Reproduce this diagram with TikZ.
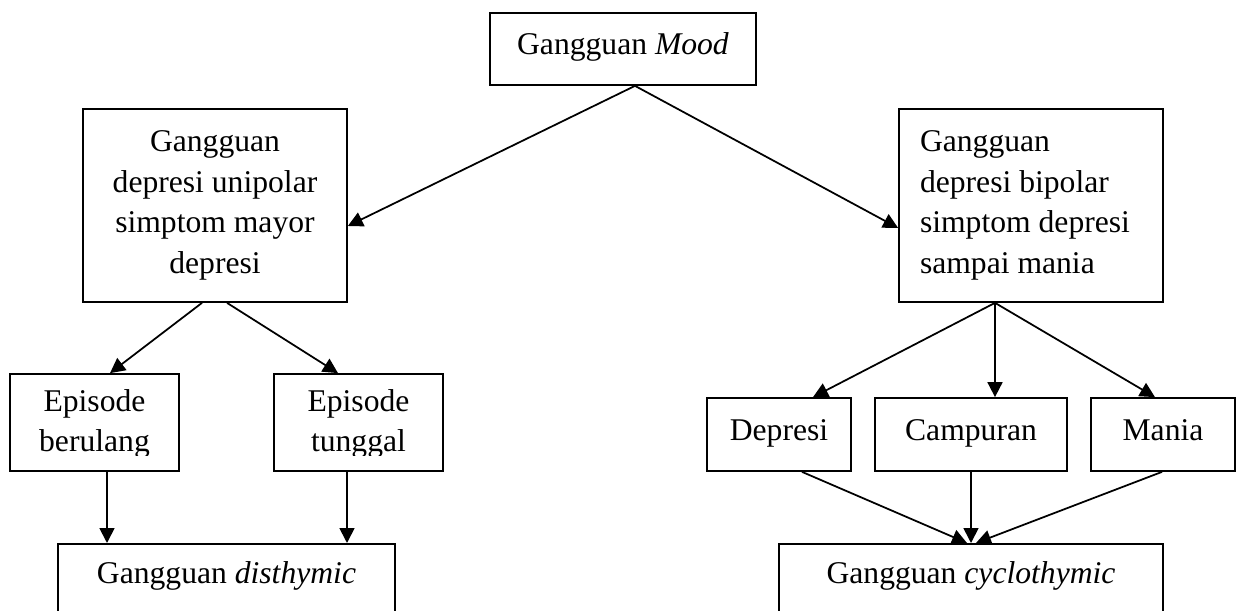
\documentclass[tikz,border=0pt]{standalone}
\usepackage{fontspec}
\setmainfont{Liberation Serif}
\usepackage{trimclip}
\usetikzlibrary{arrows.meta,calc}

\begin{document}
\begin{tikzpicture}[
    x=0.02cm, y=-0.02cm,
    box/.style={draw, line width=1pt, inner sep=0pt, align=center, font=\fontsize{18}{23}\selectfont},
    one/.style={box, text height=11pt, text depth=4.5pt},
    low/.style={box, anchor=north, inner ysep=0.35cm, text depth=2cm},
    arr/.style={-{Triangle[length=3mm,width=3mm]}, line width=1pt}
  ]
  \path[use as bounding box] (0,0) rectangle (1241,611);
  \clip (0,0) rectangle (1241,611);

  \node[one, minimum width=5.32cm, minimum height=1.44cm] (mood) at (623,49) {Gangguan \textit{Mood}};
  \node[box, minimum width=5.28cm, minimum height=3.86cm] (unip) at (215,205.5)
    {Gangguan\\depresi unipolar\\simptom mayor\\depresi};
  \node[box, align=flush left, text width=4.44cm, minimum width=5.28cm, minimum height=3.86cm] (bip) at (1031,205.5)
    {Gangguan\\depresi bipolar\\simptom depresi\\sampai mania};

  % episode boxes, last line cut at the bottom
  \node[box, minimum width=3.38cm, minimum height=1.94cm] (beru) at (94.5,422.5)
    {Episode\\\clipbox{0pt 1.7pt 0pt 0pt}{berulang}};
  \node[box, minimum width=3.38cm, minimum height=1.94cm] (tung) at (358.5,422.5)
    {Episode\\\clipbox{0pt 1.7pt 0pt 0pt}{tunggal}};

  \node[one, minimum width=2.88cm, minimum height=1.46cm] (depr) at (779,434.5) {Depresi};
  \node[one, minimum width=3.84cm, minimum height=1.46cm] (camp) at (971,434.5) {Campuran};
  \node[one, minimum width=2.88cm, minimum height=1.46cm] (mani) at (1163,434.5) {Mania};

  \node[low, minimum width=6.74cm] (dist) at (226.5,543) {Gangguan \textit{disthymic}};
  \node[low, minimum width=7.68cm] (cycl) at (971,543) {Gangguan \textit{cyclothymic}};

  \draw[arr] ($(mood.south)+(12,0)$) -- ($(unip.east)+(0,20.5)$);
  \draw[arr] ($(mood.south)+(12,0)$) -- ($(bip.west)+(0,22.5)$);

  \draw[arr] ($(unip.south)+(-13,0)$) -- ($(beru.north)+(15.5,0)$);
  \draw[arr] ($(unip.south)+(12,0)$) -- ($(tung.north)+(-20.5,0)$);
  \draw[arr] ($(beru.south)+(12.5,0)$) coordinate (b1) -- (b1 |- dist.north);
  \draw[arr] ($(tung.south)+(-11.5,0)$) coordinate (t1) -- (t1 |- dist.north);

  \draw[arr] ($(bip.south)+(-36,0)$) -- ($(depr.north)+(34,0)$);
  \draw[arr] ($(bip.south)+(-36,0)$) -- ($(camp.north)+(24,0)$);
  \draw[arr] ($(bip.south)+(-36,0)$) -- ($(mani.north)+(-8,0)$);
  \draw[arr] ($(depr.south)+(23,0)$) -- ($(cycl.north)+(-4,0)$);
  \draw[arr] (camp.south) -- (cycl.north);
  \draw[arr] ($(mani.south)+(-1,0)$) -- ($(cycl.north)+(5,0)$);
\end{tikzpicture}
\end{document}
